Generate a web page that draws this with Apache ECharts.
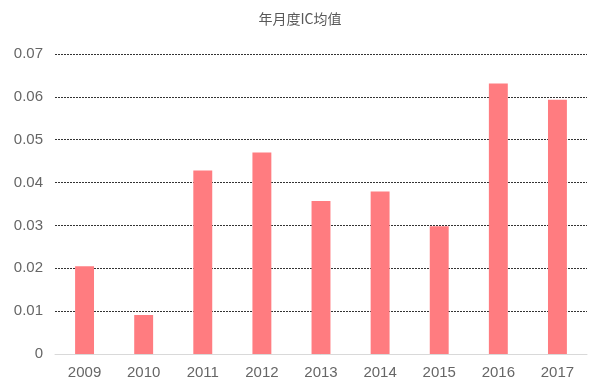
<!DOCTYPE html>
<html><head><meta charset="utf-8">
<script src="https://cdn.jsdelivr.net/npm/echarts@6/dist/echarts.min.js"></script>
<style>html,body{margin:0;padding:0;background:#fff}#c{width:600px;height:387px}</style>
</head><body><div id="c"></div>
<script>
var categories = ['2009','2010','2011','2012','2013','2014','2015','2016','2017'];
var icMean = [0.0205, 0.0091, 0.0428, 0.0470, 0.0357, 0.0379, 0.0298, 0.0631, 0.0593];
var titleText = '年月度IC均值';
var chart = echarts.init(document.getElementById('c'));
chart.setOption({
  animation: false,
  backgroundColor: '#fff',
  title: {text: titleText, left: 'center', top: 7, textStyle: {fontSize: 14, fontWeight: 'normal', color: '#595959', fontFamily: 'Noto Sans CJK SC'}},
  grid: {left: 55, right: 13, top: 54, bottom: 33},
  xAxis: {type: 'category', data: categories,
    axisLine: {lineStyle: {color: '#d9d9d9'}}, axisTick: {show: false},
    axisLabel: {color: '#666', fontSize: 15, margin: 11, fontFamily: 'Liberation Sans Narrow, Arial, Liberation Sans'}},
  yAxis: {type: 'value', min: 0, max: 0.07, interval: 0.01,
    axisLine: {show: false}, axisTick: {show: false},
    axisLabel: {color: '#666', fontSize: 15, margin: 12, fontFamily: 'Liberation Sans Narrow, Arial, Liberation Sans'},
    splitLine: {lineStyle: {color: '#333', width: 1, type: [2, 1]}}},
  series: [{type: 'bar', data: icMean, barWidth: '32%', itemStyle: {color: '#FF7C80'}}]
});
</script></body></html>
